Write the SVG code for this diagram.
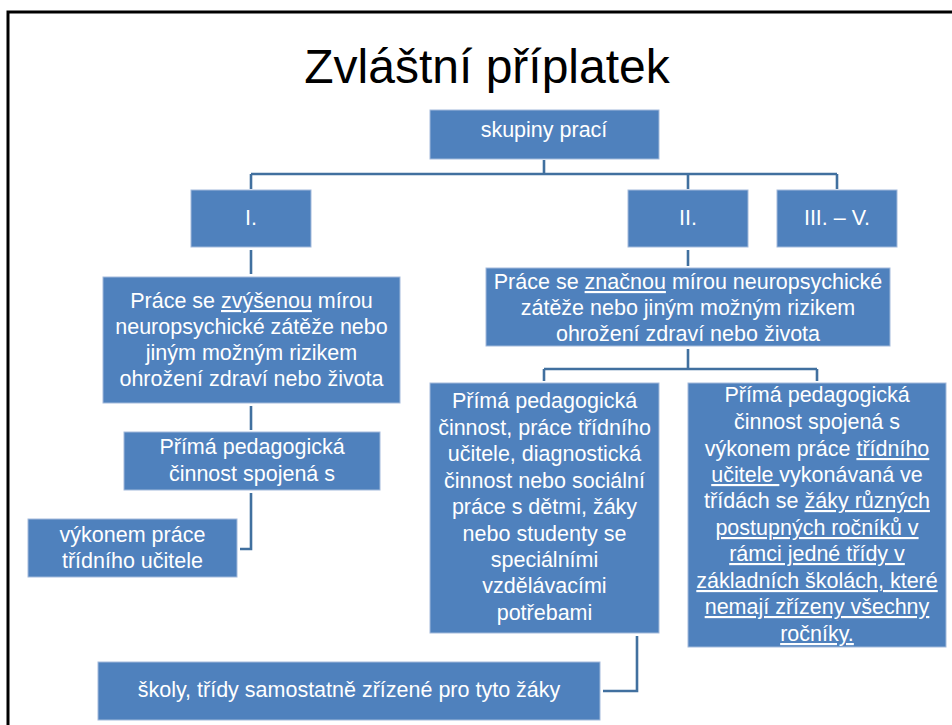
<svg xmlns="http://www.w3.org/2000/svg" width="952" height="725" viewBox="0 0 952 725">
  <style>
    .box { fill: #4F81BD; stroke: #A3BADB; stroke-width: 1; }
    .t { font-family: "Liberation Sans", Arial, sans-serif; font-size: 21.5px; fill: #FFFFFF; text-anchor: middle; }
    .u { text-decoration: underline; }
    .conn { fill: none; stroke: #41709F; stroke-width: 2.6; }
    .title { font-family: "Liberation Sans", Arial, sans-serif; font-size: 48px; fill: #000000; text-anchor: middle; }
  </style>
  <rect x="0" y="0" width="952" height="725" fill="#FFFFFF"/>
  <rect x="8" y="12" width="960" height="730" fill="none" stroke="#000000" stroke-width="3"/>
  <text class="title" x="487" y="83">Zvláštní příplatek</text>

  <g id="connectors">
    <path class="conn" d="M544,160 V174"/>
    <path class="conn" d="M251,174 H837"/>
    <path class="conn" d="M251,174 V189"/>
    <path class="conn" d="M688,174 V189"/>
    <path class="conn" d="M837,174 V189"/>
    <path class="conn" d="M251,250 V274"/>
    <path class="conn" d="M251,406 V430"/>
    <path class="conn" d="M251,493 V549 H240"/>
    <path class="conn" d="M688,250 V266"/>
    <path class="conn" d="M688,349 V369"/>
    <path class="conn" d="M544,369 H817"/>
    <path class="conn" d="M544,369 V381"/>
    <path class="conn" d="M817,369 V381"/>
    <path class="conn" d="M637,636 V691 H603"/>
  </g>

  <g id="n-skupiny">
    <rect class="box" x="430" y="110" width="229" height="49"/>
    <text class="t" x="544" y="137">skupiny prací</text>
  </g>
  <g id="n-I">
    <rect class="box" x="191" y="190" width="120" height="57"/>
    <text class="t" x="251" y="225">I.</text>
  </g>
  <g id="n-II">
    <rect class="box" x="628" y="190" width="120" height="57"/>
    <text class="t" x="688" y="225">II.</text>
  </g>
  <g id="n-III-V">
    <rect class="box" x="777" y="190" width="120" height="57"/>
    <text class="t" x="837" y="225">III. – V.</text>
  </g>

  <g id="n-zvysena">
    <rect class="box" x="103" y="277" width="297" height="126"/>
    <text class="t" x="251.5" y="308">Práce se <tspan class="u">zvýšenou</tspan> mírou</text>
    <text class="t" x="251.5" y="334">neuropsychické zátěže nebo</text>
    <text class="t" x="251.5" y="360">jiným možným rizikem</text>
    <text class="t" x="251.5" y="386">ohrožení zdraví nebo života</text>
  </g>
  <g id="n-prima1">
    <rect class="box" x="124" y="432" width="256" height="58"/>
    <text class="t" x="252" y="454">Přímá pedagogická</text>
    <text class="t" x="252" y="481">činnost spojená s</text>
  </g>
  <g id="n-vykonem">
    <rect class="box" x="28" y="519" width="209" height="58"/>
    <text class="t" x="132.5" y="542">výkonem práce</text>
    <text class="t" x="132.5" y="568">třídního učitele</text>
  </g>

  <g id="n-znacna">
    <rect class="box" x="486" y="268" width="404" height="78"/>
    <text class="t" x="688" y="289">Práce se <tspan class="u">značnou</tspan> mírou neuropsychické</text>
    <text class="t" x="688" y="315">zátěže nebo jiným možným rizikem</text>
    <text class="t" x="688" y="341">ohrožení zdraví nebo života</text>
  </g>

  <g id="n-prima2">
    <rect class="box" x="430" y="383" width="229" height="250"/>
    <text class="t" x="544.5" y="408">Přímá pedagogická</text>
    <text class="t" x="544.5" y="435">činnost, práce třídního</text>
    <text class="t" x="544.5" y="461">učitele, diagnostická</text>
    <text class="t" x="544.5" y="488">činnost nebo sociální</text>
    <text class="t" x="544.5" y="514">práce s dětmi, žáky</text>
    <text class="t" x="544.5" y="541">nebo studenty se</text>
    <text class="t" x="544.5" y="567">speciálními</text>
    <text class="t" x="544.5" y="593">vzdělávacími</text>
    <text class="t" x="544.5" y="620">potřebami</text>
  </g>

  <g id="n-prima3">
    <rect class="box" x="688" y="383" width="258" height="264"/>
    <text class="t" x="817" y="402">Přímá pedagogická</text>
    <text class="t" x="817" y="429">činnost spojená s</text>
    <text class="t" x="817" y="456">výkonem práce <tspan class="u">třídního</tspan></text>
    <text class="t" x="817" y="482"><tspan class="u">učitele </tspan>vykonávaná ve</text>
    <text class="t" x="817" y="508">třídách se <tspan class="u">žáky různých</tspan></text>
    <text class="t u" x="817" y="535">postupných ročníků v</text>
    <text class="t u" x="817" y="561">rámci jedné třídy v</text>
    <text class="t u" x="817" y="588">základních školách, které</text>
    <text class="t u" x="817" y="614">nemají zřízeny všechny</text>
    <text class="t u" x="817" y="641">ročníky.</text>
  </g>

  <g id="n-skoly">
    <rect class="box" x="98" y="662" width="502" height="58"/>
    <text class="t" x="349" y="697">školy, třídy samostatně zřízené pro tyto žáky</text>
  </g>
</svg>
